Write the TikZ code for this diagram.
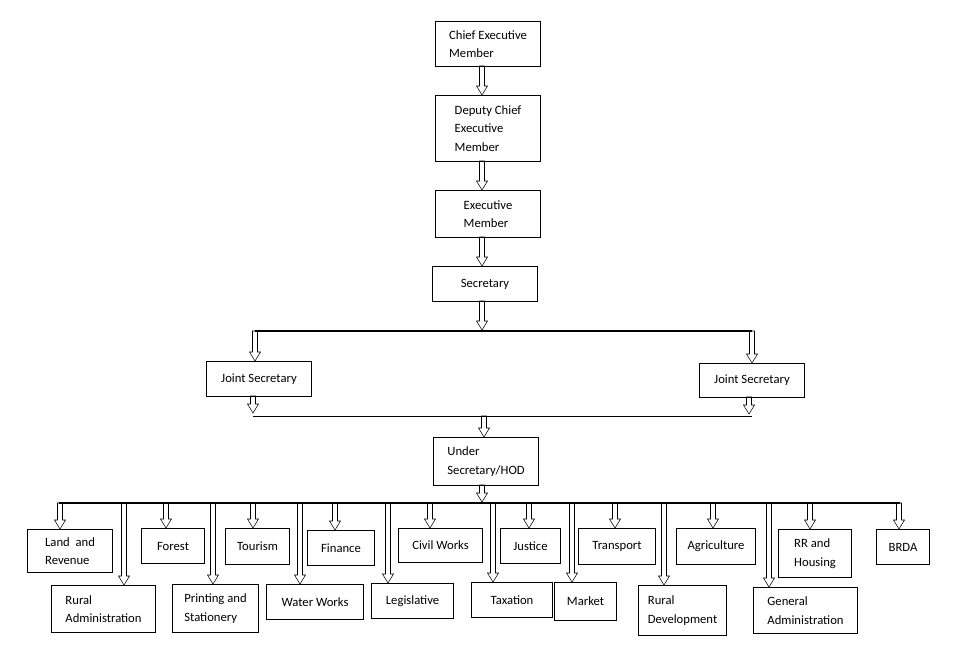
\documentclass[tikz,border=0pt]{standalone}
\usepackage{fontspec}
\setmainfont{Carlito}
\usetikzlibrary{positioning,calc}

\tikzset{
	box/.style={draw=black,thick,anchor=north west,align=left,inner xsep=7pt,font=\fontsize{9.5}{14}\selectfont},
	bus/.style={draw=black,thick}
}
% hollow arrow from #1 straight down to #2
\newcommand\harrow[2]{%
	\draw[thin] ($(#1)+(-2.5,0)$) -- ($(#2)+(-2.5,-9)$) -- ($(#2)+(-5.5,-9)$) -- (#2)
		-- ($(#2)+(5.5,-9)$) -- ($(#2)+(2.5,-9)$) -- ($(#1)+(2.5,0)$) -- cycle;}
% box: name, x, y, width, height, text
\newcommand\orgbox[6]{%
	\node[box,minimum width=#4*0.75pt,minimum height=#5*0.75pt] (#1) at (#2,#3) {#6};}

\begin{document}
\begin{tikzpicture}[x=0.75pt,y=-0.75pt]
		\useasboundingbox (0,0) rectangle (974,668);

		% upper chain
		\orgbox{chief}{435}{21}{105}{45}{Chief Executive\\Member}
		\orgbox{deputy}{435}{95}{105}{66}{Deputy Chief\\Executive\\Member}
		\orgbox{exec}{435}{190}{105}{47}{Executive\\Member}
		\orgbox{secy}{432}{266}{105}{35}{Secretary}
		\node[anchor=north west,inner sep=0pt] at (secy.north west) {};

		\coordinate (c1) at (482,66);
		\harrow{c1}{c1 |- deputy.north}
		\coordinate (c2) at (482,161);
		\harrow{c2}{c2 |- exec.north}
		\coordinate (c3) at (482,237);
		\harrow{c3}{c3 |- secy.north}

		% joint secretaries
		\coordinate (busA) at (255,331);
		\coordinate (busB) at (752,331);
		\coordinate (c4) at (482,301);
		\harrow{c4}{482,330}
		\draw[bus,line width=1.6pt] (busA) -- (busB);

		\orgbox{jsL}{206}{361}{105}{35}{Joint Secretary}
		\orgbox{jsR}{699}{363}{105}{34}{Joint Secretary}
		\harrow{busA}{busA |- jsL.north}
		\harrow{busB}{busB |- jsR.north}

		\coordinate (busC) at (253,416);
		\coordinate (busD) at (752,416);
		\coordinate (c5) at (253,396);
		\harrow{c5}{253,413}
		\coordinate (c6) at (749,397);
		\harrow{c6}{749,414}
		\draw[bus,thin] (busC) -- (busD);

		\orgbox{under}{433}{437}{105}{48}{Under\\Secretary/HOD}
		\coordinate (c7) at (484,416);
		\harrow{c7}{c7 |- under.north}

		% departments
		\coordinate (c8) at (482,485);
		\harrow{c8}{482,502}
		\coordinate (busE) at (59,503);
		\coordinate (busF) at (900,503);
		\draw[bus] (busE) -- (busF);

		\orgbox{land}{27}{529}{85}{43}{Land\ \ and\\Revenue}
		\orgbox{rural}{51}{585}{104}{47}{Rural\\Administration}
		\orgbox{forest}{141}{528}{63}{35}{Forest}
		\orgbox{print}{172}{584}{86}{48}{Printing and\\Stationery}
		\orgbox{tour}{225}{528}{64}{36}{Tourism}
		\orgbox{water}{266}{584}{97}{35}{Water Works}
		\orgbox{fin}{307}{530}{67}{35}{Finance}
		\orgbox{legis}{371}{583}{82}{35}{Legislative}
		\orgbox{civil}{398}{528}{84}{34}{Civil Works}
		\orgbox{tax}{471}{582}{81}{35}{Taxation}
		\orgbox{just}{500}{528}{60}{35}{Justice}
		\orgbox{market}{554}{582}{62}{38}{Market}
		\orgbox{trans}{578}{528}{77}{36}{Transport}
		\orgbox{ruraldev}{638}{585}{84}{50}{Rural\\Development}
		\orgbox{agri}{676}{528}{79}{36}{Agriculture}
		\orgbox{gen}{753}{587}{104}{46}{General\\Administration}
		\orgbox{rr}{778}{529}{73}{48}{RR and\\Housing}
		\orgbox{brda}{876}{529}{53}{35}{BRDA}

		\foreach \x/\n in {60/land,124/rural,166/forest,213/print,253/tour,300/water,335/fin,388/legis,430/civil,493/tax,529/just,572/market,615/trans,664/ruraldev,713/agri,769/gen,810/rr,899/brda}{
			\coordinate (d\n) at (\x,503);
			\harrow{d\n}{d\n |- \n.north}
		}
	\end{tikzpicture}
\end{document}
